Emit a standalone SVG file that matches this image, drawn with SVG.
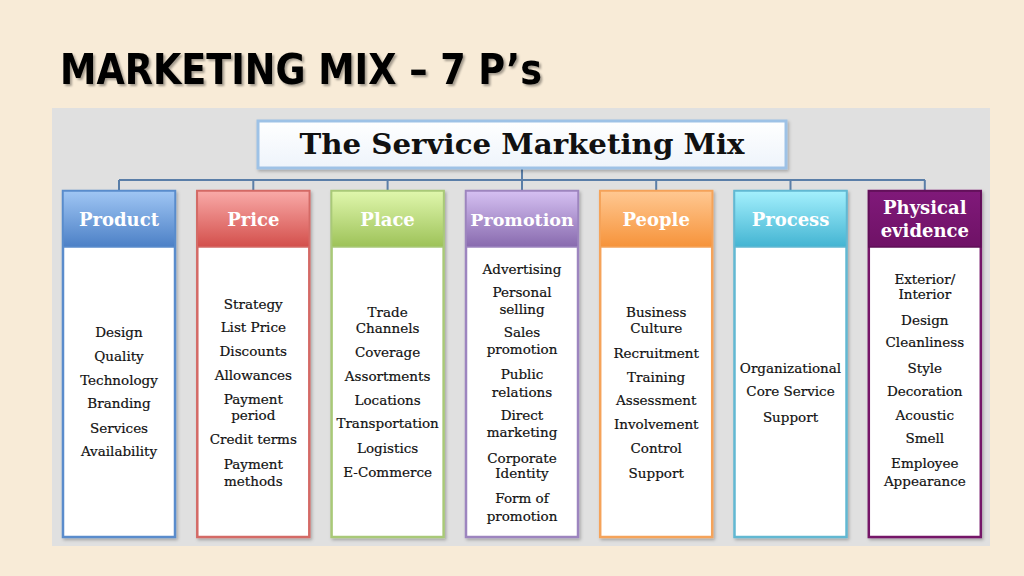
<svg xmlns="http://www.w3.org/2000/svg" width="1024" height="576" viewBox="0 0 1024 576">
<defs>
<style>
.body{fill:#fff;stroke-width:2.5}
.ht{font-family:"DejaVu Serif","Liberation Serif",serif;font-weight:bold;font-size:18px;fill:#fff;text-anchor:middle}
.it{font-family:"DejaVu Serif","Liberation Serif",serif;font-size:13.5px;fill:#111;text-anchor:middle;stroke:#111;stroke-width:0.2}
.conn{stroke:#5a7ea8;stroke-width:2;fill:none}
</style>
<linearGradient id="gProduct" x1="0" y1="0" x2="0" y2="1"><stop offset="0" stop-color="#a0c6f4"/><stop offset="1" stop-color="#4c80c6"/></linearGradient>
<linearGradient id="gPrice" x1="0" y1="0" x2="0" y2="1"><stop offset="0" stop-color="#f9aaa8"/><stop offset="1" stop-color="#d34f4b"/></linearGradient>
<linearGradient id="gPlace" x1="0" y1="0" x2="0" y2="1"><stop offset="0" stop-color="#e0f7ad"/><stop offset="1" stop-color="#9dc258"/></linearGradient>
<linearGradient id="gPromotion" x1="0" y1="0" x2="0" y2="1"><stop offset="0" stop-color="#d5c0f2"/><stop offset="1" stop-color="#886aae"/></linearGradient>
<linearGradient id="gPeople" x1="0" y1="0" x2="0" y2="1"><stop offset="0" stop-color="#ffc892"/><stop offset="1" stop-color="#f6933a"/></linearGradient>
<linearGradient id="gProcess" x1="0" y1="0" x2="0" y2="1"><stop offset="0" stop-color="#a4f0fd"/><stop offset="1" stop-color="#43b4d2"/></linearGradient>
<linearGradient id="gPhys" x1="0" y1="0" x2="0" y2="1"><stop offset="0" stop-color="#80197a"/><stop offset="1" stop-color="#6f1266"/></linearGradient>
<linearGradient id="gHead" x1="0" y1="0" x2="0" y2="1"><stop offset="0" stop-color="#ffffff"/><stop offset="1" stop-color="#eef4fb"/></linearGradient>
<filter id="sh" x="-10%" y="-10%" width="130%" height="130%"><feDropShadow dx="1.5" dy="2" stdDeviation="1.5" flood-color="#000" flood-opacity="0.25"/></filter>
<filter id="tsh" x="-5%" y="-20%" width="115%" height="150%"><feDropShadow dx="2" dy="2" stdDeviation="1.2" flood-color="#000" flood-opacity="0.35"/></filter>
</defs>
<rect width="1024" height="576" fill="#f8ebd7"/>
<text x="60" y="84" font-family="'DejaVu Sans Condensed','Liberation Sans',sans-serif" font-weight="bold" font-size="43" fill="#000" textLength="482" lengthAdjust="spacingAndGlyphs" filter="url(#tsh)">MARKETING MIX – 7 P’s</text>
<rect x="52" y="108" width="938" height="438" fill="#e0e0e0"/>
<g id="connectors">
<path class="conn" d="M522 168V180M119 180H925M119 180V191M253.3 180V191M387.6 180V191M522 180V191M656.2 180V191M790.5 180V191M924.8 180V191"/>
</g>
<g id="header">
<rect x="258" y="121" width="528" height="47" fill="url(#gHead)" stroke="#9ec2e6" stroke-width="3" filter="url(#sh)"/>
<text x="522" y="154" font-family="'DejaVu Serif','Liberation Serif',serif" font-weight="bold" font-size="27" fill="#111" text-anchor="middle" textLength="445" lengthAdjust="spacingAndGlyphs">The Service Marketing Mix</text>
</g>
<g id="product">
<rect class="body" x="63" y="191" width="112" height="346" stroke="#5a8ccc" filter="url(#sh)"/>
<rect x="63" y="191" width="112" height="56" fill="url(#gProduct)" stroke="#5a8ccc" stroke-width="1.5"/>
<text class="ht" x="119" y="226">Product</text>
<text class="it" x="119" y="337">Design</text>
<text class="it" x="119" y="361">Quality</text>
<text class="it" x="119" y="385">Technology</text>
<text class="it" x="119" y="408">Branding</text>
<text class="it" x="119" y="433">Services</text>
<text class="it" x="119" y="456">Availability</text>
</g>
<g id="price">
<rect class="body" x="197.3" y="191" width="112" height="346" stroke="#d46a66" filter="url(#sh)"/>
<rect x="197.3" y="191" width="112" height="56" fill="url(#gPrice)" stroke="#d46a66" stroke-width="1.5"/>
<text class="ht" x="253.3" y="226">Price</text>
<text class="it" x="253.3" y="309">Strategy</text>
<text class="it" x="253.3" y="332">List Price</text>
<text class="it" x="253.3" y="356">Discounts</text>
<text class="it" x="253.3" y="380">Allowances</text>
<text class="it" x="253.3" y="404">Payment</text>
<text class="it" x="253.3" y="420">period</text>
<text class="it" x="253.3" y="444">Credit terms</text>
<text class="it" x="253.3" y="469">Payment</text>
<text class="it" x="253.3" y="486">methods</text>
</g>
<g id="place">
<rect class="body" x="331.6" y="191" width="112" height="346" stroke="#a9c978" filter="url(#sh)"/>
<rect x="331.6" y="191" width="112" height="56" fill="url(#gPlace)" stroke="#a9c978" stroke-width="1.5"/>
<text class="ht" x="387.6" y="226">Place</text>
<text class="it" x="387.6" y="317">Trade</text>
<text class="it" x="387.6" y="333">Channels</text>
<text class="it" x="387.6" y="357">Coverage</text>
<text class="it" x="387.6" y="381">Assortments</text>
<text class="it" x="387.6" y="405">Locations</text>
<text class="it" x="387.6" y="428">Transportation</text>
<text class="it" x="387.6" y="453">Logistics</text>
<text class="it" x="387.6" y="477">E-Commerce</text>
</g>
<g id="promotion">
<rect class="body" x="466" y="191" width="112" height="346" stroke="#9d85bf" filter="url(#sh)"/>
<rect x="466" y="191" width="112" height="56" fill="url(#gPromotion)" stroke="#9d85bf" stroke-width="1.5"/>
<text class="ht" x="522" y="226" style="font-size:17.5px">Promotion</text>
<text class="it" x="522" y="274">Advertising</text>
<text class="it" x="522" y="297">Personal</text>
<text class="it" x="522" y="314">selling</text>
<text class="it" x="522" y="337">Sales</text>
<text class="it" x="522" y="354">promotion</text>
<text class="it" x="522" y="379">Public</text>
<text class="it" x="522" y="397">relations</text>
<text class="it" x="522" y="420">Direct</text>
<text class="it" x="522" y="437">marketing</text>
<text class="it" x="522" y="463">Corporate</text>
<text class="it" x="522" y="478">Identity</text>
<text class="it" x="522" y="503">Form of</text>
<text class="it" x="522" y="521">promotion</text>
</g>
<g id="people">
<rect class="body" x="600.2" y="191" width="112" height="346" stroke="#f5a35a" filter="url(#sh)"/>
<rect x="600.2" y="191" width="112" height="56" fill="url(#gPeople)" stroke="#f5a35a" stroke-width="1.5"/>
<text class="ht" x="656.2" y="226">People</text>
<text class="it" x="656.2" y="317">Business</text>
<text class="it" x="656.2" y="333">Culture</text>
<text class="it" x="656.2" y="358">Recruitment</text>
<text class="it" x="656.2" y="382">Training</text>
<text class="it" x="656.2" y="405">Assessment</text>
<text class="it" x="656.2" y="429">Involvement</text>
<text class="it" x="656.2" y="453">Control</text>
<text class="it" x="656.2" y="478">Support</text>
</g>
<g id="process">
<rect class="body" x="734.5" y="191" width="112" height="346" stroke="#62b8d2" filter="url(#sh)"/>
<rect x="734.5" y="191" width="112" height="56" fill="url(#gProcess)" stroke="#62b8d2" stroke-width="1.5"/>
<text class="ht" x="790.5" y="226">Process</text>
<text class="it" x="790.5" y="373">Organizational</text>
<text class="it" x="790.5" y="396">Core Service</text>
<text class="it" x="790.5" y="422">Support</text>
</g>
<g id="physical-evidence">
<rect class="body" x="868.8" y="191" width="112" height="346" stroke="#741468" filter="url(#sh)"/>
<rect x="868.8" y="191" width="112" height="56" fill="url(#gPhys)" stroke="#5e0f56" stroke-width="1.5"/>
<text class="ht" x="924.8" y="214">Physical</text>
<text class="ht" x="924.8" y="237">evidence</text>
<text class="it" x="924.8" y="284">Exterior/</text>
<text class="it" x="924.8" y="299">Interior</text>
<text class="it" x="924.8" y="325">Design</text>
<text class="it" x="924.8" y="347">Cleanliness</text>
<text class="it" x="924.8" y="373">Style</text>
<text class="it" x="924.8" y="396">Decoration</text>
<text class="it" x="924.8" y="420">Acoustic</text>
<text class="it" x="924.8" y="443">Smell</text>
<text class="it" x="924.8" y="468">Employee</text>
<text class="it" x="924.8" y="486">Appearance</text>
</g>
</svg>
